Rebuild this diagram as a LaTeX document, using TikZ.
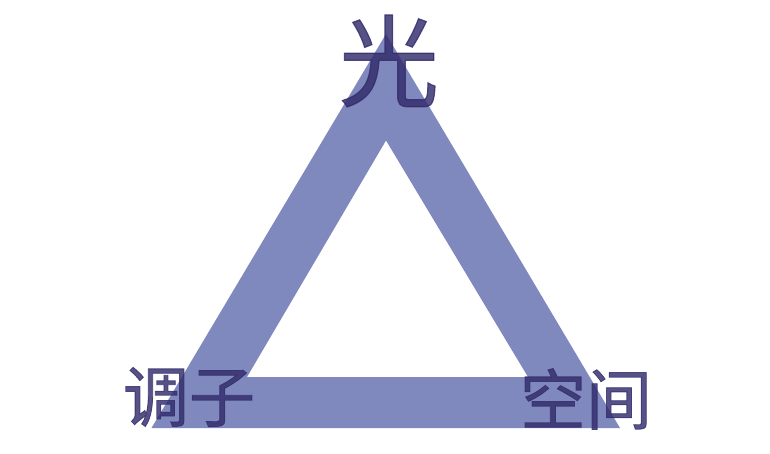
\documentclass[tikz,border=0pt]{standalone}
\usepackage{fontspec}
\newfontfamily\cjk[FakeBold=1.2]{Noto Sans CJK SC}
\definecolor{band}{RGB}{128,137,190}
\definecolor{ink}{RGB}{50,44,108}
\begin{document}
\begin{tikzpicture}[x=1pt,y=-1pt,
  lbl/.style={inner sep=0pt, text=ink, text opacity=0.82, font=\cjk\fontsize{66}{66}\selectfont}]
\useasboundingbox (0,0) rectangle (770,454);
\fill[white] (0,0) rectangle (770,454);
\fill[band, even odd rule]
  (386,34) -- (151.5,428) -- (620,428) -- cycle
  (386,140.5) -- (247,377) -- (528,377) -- cycle;
\node[lbl, font=\cjk\fontsize{100}{100}\selectfont] (light) at (389,61) {光};
\node[lbl] (tone) at (189,397) {调子};
\node[lbl] (space) at (586,399) {空间};
\end{tikzpicture}
\end{document}
